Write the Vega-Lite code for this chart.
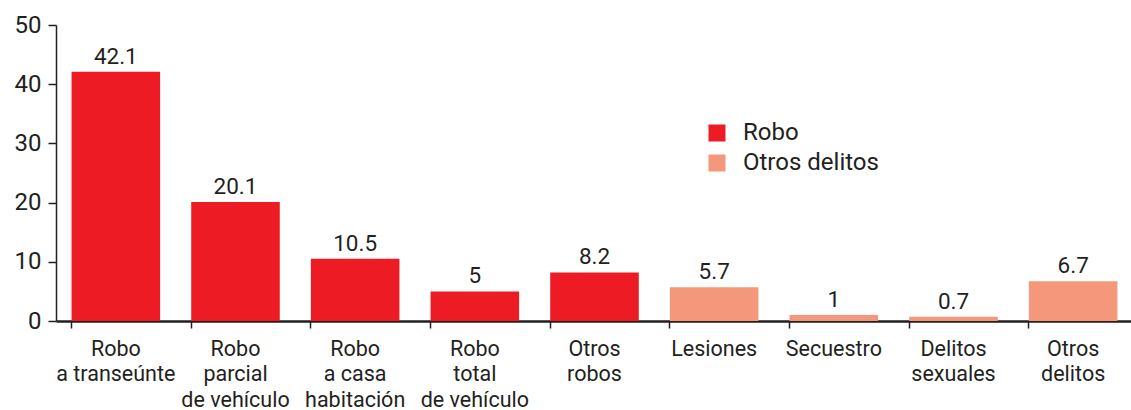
{
  "$schema": "https://vega.github.io/schema/vega-lite/v6.json",
  "autosize": "none",
  "padding": {"left": 56, "top": 25, "right": 0, "bottom": 89},
  "width": 1077,
  "height": 296,
  "background": "white",
  "config": {"view": {"stroke": null}, "font": "Roboto"},
  "data": {"values": [
    {"cat": "Robo|a transeúnte", "valor": 42.1, "tipo": "Robo"},
    {"cat": "Robo|parcial|de vehículo", "valor": 20.1, "tipo": "Robo"},
    {"cat": "Robo|a casa|habitación", "valor": 10.5, "tipo": "Robo"},
    {"cat": "Robo|total|de vehículo", "valor": 5, "tipo": "Robo"},
    {"cat": "Otros|robos", "valor": 8.2, "tipo": "Robo"},
    {"cat": "Lesiones", "valor": 5.7, "tipo": "Otros delitos"},
    {"cat": "Secuestro", "valor": 1, "tipo": "Otros delitos"},
    {"cat": "Delitos|sexuales", "valor": 0.7, "tipo": "Otros delitos"},
    {"cat": "Otros|delitos", "valor": 6.7, "tipo": "Otros delitos"}
  ]},
  "encoding": {
    "x": {
      "field": "cat", "type": "nominal", "sort": null,
      "scale": {"paddingInner": 0.26, "paddingOuter": 0.13},
      "axis": {
        "title": null, "labelAngle": 0, "bandPosition": 0,
        "labelExpr": "split(datum.label, '|')", "labelLineHeight": 25.5,
        "labelFontSize": 21.5, "labelColor": "#231F20", "labelPadding": 10,
        "domainColor": "#231F20", "domainWidth": 2.5, "tickColor": "#231F20",
        "tickWidth": 1.5, "tickSize": 7, "labelBaseline": "top"
      }
    },
    "y": {
      "field": "valor", "type": "quantitative",
      "scale": {"domain": [0, 50], "nice": false},
      "axis": {
        "title": null, "values": [0, 10, 20, 30, 40, 50], "grid": false,
        "labelFontSize": 24, "labelColor": "#231F20", "labelPadding": 7,
        "domainColor": "#231F20", "domainWidth": 1.5, "tickColor": "#231F20",
        "tickWidth": 1.5, "tickSize": 8
      }
    }
  },
  "layer": [
    {
      "mark": {"type": "bar"},
      "encoding": {
        "color": {
          "field": "tipo", "type": "nominal",
          "scale": {"domain": ["Robo", "Otros delitos"], "range": ["#ED1C24", "#F4977A"]},
          "legend": {
            "title": null, "orient": "none", "legendX": 649, "legendY": 96,
            "symbolType": "square", "symbolSize": 289, "symbolStrokeWidth": 0,
            "labelFontSize": 24, "labelColor": "#231F20", "rowPadding": 6,
            "labelOffset": 14
          }
        }
      }
    },
    {
      "mark": {"type": "text", "baseline": "bottom", "dy": -3, "fontSize": 22.5, "color": "#231F20"},
      "encoding": {"text": {"field": "valor", "type": "quantitative"}}
    }
  ]
}
